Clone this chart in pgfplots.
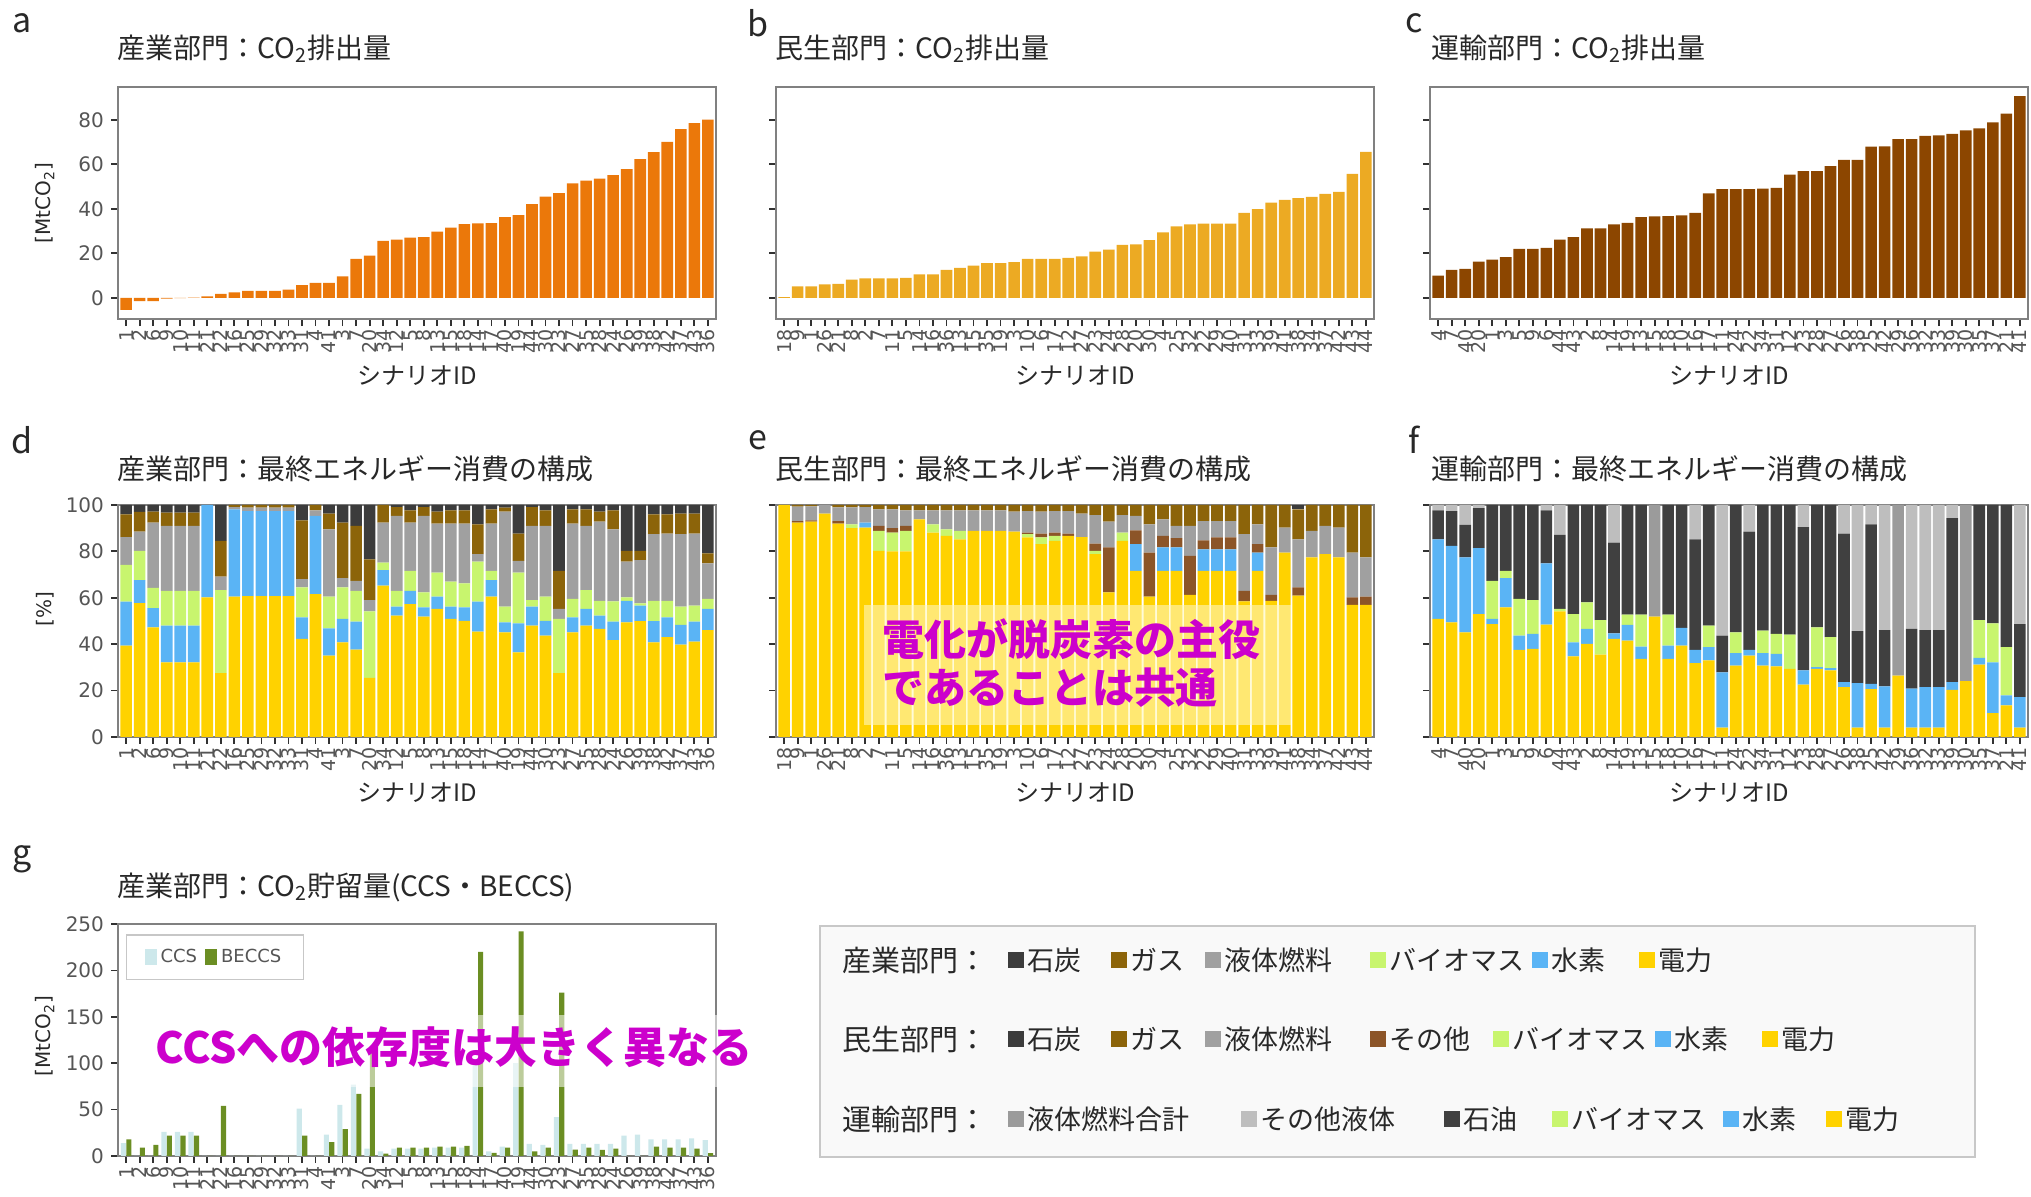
\documentclass[border=0pt]{standalone}
\usepackage{fontspec}
\setmainfont{Noto Sans CJK JP}
\newfontfamily\numfont{DejaVu Sans}
\usepackage{pgfplots}
\usepackage{pgfplotstable}
\pgfplotsset{compat=1.18}

% sector colours
\definecolor{cInd}{RGB}{235,120,10}
\definecolor{cRes}{RGB}{236,170,35}
\definecolor{cTra}{RGB}{140,70,0}
% fuel colours
\definecolor{fCoal}{RGB}{60,60,60}
\definecolor{fGas}{RGB}{140,100,10}
\definecolor{fLiq}{RGB}{160,160,160}
\definecolor{fBio}{RGB}{200,245,110}
\definecolor{fH2}{RGB}{90,180,245}
\definecolor{fEl}{RGB}{255,210,0}
\definecolor{fOth}{RGB}{140,85,40}
\definecolor{fOil}{RGB}{64,64,64}
\definecolor{fOLiq}{RGB}{190,190,190}
\definecolor{fLTot}{RGB}{155,155,155}
\definecolor{cCCS}{RGB}{205,232,235}
\definecolor{cBECCS}{RGB}{107,142,35}
% frame and text colours
\definecolor{axisgray}{RGB}{128,128,128}
\definecolor{tickdark}{RGB}{50,50,50}
\definecolor{labgray}{RGB}{85,85,85}
\definecolor{txt}{RGB}{40,40,40}
\definecolor{magen}{RGB}{204,0,204}

% scenario order of each sector (sorted by CO2 emissions)
\def\ordInd{1,2,6,9,10,11,21,22,16,25,29,32,33,31,4,41,3,7,20,34,12,5,8,13,15,18,14,17,40,19,44,30,23,27,35,28,24,26,39,38,42,37,43,36}
\def\ordRes{18,9,1,26,21,8,2,7,11,5,14,16,36,13,15,35,19,3,10,6,17,12,27,23,24,28,20,30,4,25,32,22,29,40,31,33,39,41,38,34,37,42,43,44}
\def\ordTra{4,7,40,20,1,3,5,9,6,44,43,2,8,14,19,13,15,18,10,16,17,11,24,22,34,31,12,23,28,27,26,38,25,42,29,36,32,33,39,30,35,37,21,41}

\pgfplotstableread{
i v
0 -5.4
1 -1.5
2 -1.5
3 -0.4
4 -0.1
5 0.1
6 0.7
7 1.8
8 2.5
9 3.1
10 3.1
11 3.1
12 3.7
13 5.7
14 6.7
15 6.7
16 9.6
17 17.5
18 19.0
19 25.6
20 26.2
21 27.1
22 27.3
23 29.7
24 31.5
25 33.1
26 33.4
27 33.6
28 36.3
29 37.2
30 42.1
31 45.5
32 47.0
33 51.4
34 52.6
35 53.6
36 55.1
37 57.8
38 62.3
39 65.5
40 70.0
41 75.8
42 78.5
43 80.0
}\tabA

\pgfplotstableread{
i v
0 0.3
1 5.1
2 5.2
3 6.0
4 6.3
5 8.2
6 8.7
7 8.7
8 8.7
9 9.0
10 10.5
11 10.5
12 12.6
13 13.5
14 14.5
15 15.6
16 15.6
17 16.0
18 17.5
19 17.5
20 17.5
21 18.0
22 18.6
23 20.8
24 21.7
25 23.8
26 24.0
27 25.9
28 29.4
29 32.1
30 33.0
31 33.3
32 33.3
33 33.3
34 38.2
35 39.9
36 42.8
37 44.0
38 44.8
39 45.4
40 46.7
41 47.6
42 55.7
43 65.6
}\tabB

\pgfplotstableread{
i v
0 10.0
1 12.6
2 13.0
3 16.3
4 17.2
5 18.3
6 22.0
7 22.0
8 22.5
9 26.1
10 27.3
11 31.2
12 31.2
13 33.0
14 33.7
15 36.3
16 36.6
17 36.7
18 37.0
19 38.2
20 46.9
21 48.8
22 48.8
23 48.8
24 49.0
25 49.4
26 55.3
27 56.9
28 56.9
29 59.2
30 62.0
31 62.0
32 67.9
33 68.0
34 71.3
35 71.3
36 72.8
37 73.0
38 73.7
39 75.2
40 76.1
41 78.8
42 82.7
43 90.6
}\tabC

% industry final energy shares [%]
\pgfplotstableread{
i el h2 bio liq gas coal
0 39.4 18.9 15.9 12.0 9.8 4.0
1 57.7 9.9 12.6 8.3 8.5 3.0
2 47.3 8.3 8.7 28.1 4.7 2.9
3 32.2 15.8 15.0 28.0 5.7 3.3
4 32.2 15.8 15.0 28.0 5.7 3.3
5 32.2 15.8 15.0 28.0 5.7 3.3
6 60.2 39.8 0 0 0 0
7 27.5 0 35.8 5.8 15.4 15.5
8 60.5 37.6 0 1.0 0.9 0
9 60.7 36.7 0 1.5 1.1 0
10 60.7 36.7 0 1.5 1.1 0
11 60.7 36.7 0 1.5 1.1 0
12 60.7 36.7 0 1.5 1.1 0
13 42.3 9.3 12.9 3.6 25.3 6.6
14 61.6 33.7 0 2.4 2.3 0
15 35.1 11.7 13.7 29.0 6.8 3.7
16 40.8 10.1 13.6 4.0 23.9 7.6
17 37.7 12.0 13.3 4.3 23.7 9.0
18 25.5 0 28.7 4.8 17.6 23.4
19 65.2 6.7 3.3 17.2 7.6 0
20 52.3 3.9 6.8 32.3 3.8 0.9
21 57.3 5.7 8.6 20.8 5.3 2.3
22 51.9 4.0 6.4 33.0 3.8 0.9
23 55.2 5.3 10.4 21.1 5.1 2.9
24 50.9 5.3 10.8 25.0 5.7 2.3
25 50.1 5.8 10.3 25.8 5.7 2.3
26 45.4 12.9 17.3 3.2 12.9 8.3
27 60.5 7.1 4.0 20.4 6.1 1.9
28 45.1 4.3 6.8 40.9 1.8 1.1
29 36.5 12.5 21.9 5.0 11.8 12.3
30 48.0 8.2 2.8 32.0 8.1 0.9
31 43.7 6.4 10.4 30.5 6.7 2.3
32 27.5 0 23.4 4.3 16.4 28.4
33 45.1 6.5 7.9 32.5 6.1 1.9
34 48.0 7.2 8.1 27.7 7.1 1.9
35 46.6 5.7 6.4 34.1 4.3 2.9
36 41.8 7.9 8.8 31.0 8.2 2.3
37 49.4 9.3 1.5 15.4 4.6 19.8
38 49.9 6.7 1.0 18.6 4.0 19.8
39 40.8 9.1 8.8 28.7 8.6 4.0
40 43.0 8.6 7.1 29.0 8.3 4.0
41 39.8 8.5 7.9 31.2 8.9 3.7
42 41.1 8.6 6.9 31.1 8.6 3.7
43 46.1 9.1 4.3 15.3 4.3 20.9
}\tabD

% residential/commercial final energy shares [%]
\pgfplotstableread{
i el h2 bio oth liq gas coal
0 100 0 0 0 0 0 0
1 92.4 0 0 0.7 6.2 0.7 0
2 92.8 0 0 0.6 6.0 0.6 0
3 96.3 0 0 0 3.7 0 0
4 92.0 0 0 1.0 6.0 1.0 0
5 90.0 0 1.7 0 7.3 1.0 0
6 90.3 2.1 0 0 6.7 0.9 0
7 80.2 0 8.6 2.2 7.1 1.9 0
8 80.0 0 8.1 1.9 8.1 1.9 0
9 80.0 0 8.8 2.2 6.7 2.3 0
10 93.8 0 0 0 3.9 2.3 0
11 88.1 0 3.6 0 6.0 2.3 0
12 86.7 0 2.8 0 8.2 2.3 0
13 85.2 0 3.6 0 8.9 2.3 0
14 88.8 0 0 0 8.9 2.3 0
15 88.8 0 0 0 8.9 2.3 0
16 88.8 0 0 0 8.9 2.3 0
17 88.5 0 0 0 8.6 2.9 0
18 86.0 0 1.4 0.7 9.3 2.6 0
19 83.1 0 2.9 1.7 9.4 2.9 0
20 84.5 0 2.2 1.4 9.3 2.6 0
21 86.7 0 0 1.0 9.7 2.6 0
22 86.2 0 0 0 10.1 3.7 0
23 78.8 0 1.4 3.2 12.2 4.4 0
24 62.3 0 0 19.4 11.1 7.2 0
25 84.5 0 3.6 0 7.5 4.4 0
26 71.6 11.5 0 6.0 6.2 4.7 0
27 60.5 0 0 19.0 12.2 8.3 0
28 71.6 10.1 0 5.0 7.1 6.2 0
29 71.6 10.1 0 4.0 5.3 9.0 0
30 61.3 0 0 16.8 12.9 9.0 0
31 71.6 9.3 0 3.9 8.3 6.9 0
32 71.6 9.3 0 5.1 7.1 6.9 0
33 71.6 9.3 0 5.1 7.1 6.9 0
34 58.5 0 0 4.5 24.4 12.6 0
35 71.6 7.9 0 3.6 8.6 8.3 0
36 58.7 0 0 2.6 20.4 18.3 0
37 79.5 0 0 0 10.8 9.7 0
38 60.9 0 0 3.6 20.7 12.9 1.9
39 77.4 0 0 0 11.4 11.2 0
40 78.8 0 0 0 12.2 9.0 0
41 77.4 0 0 0 12.9 9.7 0
42 57.0 0 0 3.2 19.3 20.5 0
43 57.0 0 0 3.5 16.9 22.6 0
}\tabE

% transport final energy shares [%]
\pgfplotstableread{
i el h2 bio oil oliq ltot
0 50.9 34.3 0 12.5 2.3 0
1 49.4 33.0 0 15.0 2.6 0
2 45.1 32.3 0 14.0 8.6 0
3 53.0 28.4 0 17.2 1.4 0
4 48.7 2.2 16.4 32.7 0 0
5 55.9 12.6 3.1 28.4 0 0
6 37.5 6.2 15.8 40.5 0 0
7 38.0 6.4 14.6 41.0 0 0
8 48.4 26.4 0 22.9 2.3 0
9 54.2 0 1.0 31.9 12.9 0
10 34.7 6.1 12.2 47.0 0 0
11 40.1 6.5 11.4 42.0 0 0
12 35.5 0 14.9 49.6 0 0
13 42.3 2.4 0 39.1 16.2 0
14 41.5 6.8 4.4 47.3 0 0
15 33.7 5.3 13.7 47.3 0 0
16 51.9 0 0 0 0 48.1
17 33.7 5.7 13.3 47.3 0 0
18 39.4 7.6 0 53.0 0 0
19 31.8 5.7 0 47.7 14.8 0
20 33.0 5.7 9.3 52.0 0 0
21 4.0 23.9 0 15.8 56.3 0
22 30.8 5.3 9.0 54.9 0 0
23 35.1 2.4 0 51.0 11.5 0
24 30.8 5.3 9.7 54.2 0 0
25 30.4 5.4 8.6 55.6 0 0
26 29.4 0 14.7 55.9 0 0
27 22.6 6.1 0 61.8 9.5 0
28 29.4 0.7 17.2 52.7 0 0
29 28.7 1.0 13.3 57.0 0 0
30 21.5 2.1 0 64.1 12.3 0
31 4.0 19.2 0 22.4 54.4 0
32 20.6 2.3 0 68.8 8.3 0
33 4.0 17.8 0 24.3 53.9 0
34 26.5 0 0 0 0 73.5
35 4.0 16.8 0 25.8 53.4 0
36 4.0 17.5 0 24.6 53.9 0
37 4.0 17.5 0 24.6 53.9 0
38 20.3 3.3 0 70.7 5.7 0
39 24.1 0 0 0 0 75.9
40 31.2 2.9 16.3 49.6 0 0
41 10.3 21.9 16.8 51.0 0 0
42 13.6 4.3 20.8 61.3 0 0
43 4.0 13.2 0 31.5 51.3 0
}\tabF

% industry CO2 storage [MtCO2]
\pgfplotstableread{
i ccs beccs
0 14 18
1 0 9
2 0 12
3 26 22
4 26 22
5 26 22
6 0 0
7 0 54
8 0 0
9 0 0
10 0 0
11 0 0
12 0 0
13 51 22
14 0 0
15 23 15
16 55 29
17 77 67
18 8 111
19 5 2.5
20 8 9
21 8 9
22 8 9
23 9 10
24 9 10
25 9 11
26 100 220
27 5 3.5
28 10 9
29 100 242
30 13 5
31 12 9
32 42 176
33 13 7
34 13 9
35 13 6.5
36 13 8
37 22 0
38 23 0
39 18 10
40 18 9
41 18 9
42 19 8
43 17 3
}\tabG

\pgfplotsset{
  panel/.style={
    scale only axis, width=299pt, height=116pt,
    anchor=north west,
    xmin=-0.6, xmax=43.6,
    axis line style={draw=axisgray, line width=0.8pt},
    tick pos=left, tick align=outside,
    major tick length=3.5pt,
    tick style={draw=tickdark, line width=0.9pt},
    xtick={0,...,43},
    x tick label style={rotate=90, anchor=east, inner sep=1.5pt,
      font=\numfont\fontsize{9.5}{9.5}\selectfont, text=labgray},
    y tick label style={font=\numfont\fontsize{10}{10}\selectfont, text=labgray},
    /pgf/number format/assume math mode=true,
  },
  co2/.style={panel, ybar, bar width=0.86, ymin=-9.5, ymax=94.7, ytick={0,20,40,60,80}},
  mix/.style={panel, ybar stacked, bar width=0.86, ymin=0, ymax=100, ytick={0,20,...,100}},
}

\newcommand{\ttl}[3]{\node[anchor=west, inner sep=0pt, text=txt, font=\fontsize{14}{14}\selectfont] at (#1,#2) {#3};}
\newcommand{\lett}[3]{\node[inner sep=0pt, text=txt, font=\fontsize{17}{17}\selectfont] at (#1,#2) {#3};}
\newcommand{\xlab}[2]{\node[inner sep=0pt, text=txt, font=\fontsize{12}{12}\selectfont] at (#1,#2) {シナリオID};}
\newcommand{\legitem}[4]{\fill[#3] (#1,#2-4pt) rectangle (#1+8pt,#2+4pt);
  \node[anchor=west, inner sep=0pt, text=txt, font=\fontsize{13.5}{13.5}\selectfont] at (#1+9.5pt,#2) {#4};}

\begin{document}
\begin{tikzpicture}
\path[use as bounding box] (0,0) rectangle (1015.5pt,598pt);

% ---------- a: industry CO2 ----------
\begin{axis}[co2, at={(59pt,554.5pt)}, xticklabels/.expanded=\ordInd]
\addplot[fill=cInd, draw=none] table[x=i,y=v]{\tabA};
\end{axis}
% ---------- b: residential CO2 ----------
\begin{axis}[co2, at={(388pt,554.5pt)}, yticklabels={}, xticklabels/.expanded=\ordRes]
\addplot[fill=cRes, draw=none] table[x=i,y=v]{\tabB};
\end{axis}
% ---------- c: transport CO2 ----------
\begin{axis}[co2, at={(715pt,554.5pt)}, yticklabels={}, xticklabels/.expanded=\ordTra]
\addplot[fill=cTra, draw=none] table[x=i,y=v]{\tabC};
\end{axis}

% ---------- d: industry energy mix ----------
\begin{axis}[mix, at={(59pt,345.5pt)}, xticklabels/.expanded=\ordInd]
\addplot[fill=fEl, draw=none] table[x=i,y=el]{\tabD};
\addplot[fill=fH2, draw=none] table[x=i,y=h2]{\tabD};
\addplot[fill=fBio, draw=none] table[x=i,y=bio]{\tabD};
\addplot[fill=fLiq, draw=none] table[x=i,y=liq]{\tabD};
\addplot[fill=fGas, draw=none] table[x=i,y=gas]{\tabD};
\addplot[fill=fCoal, draw=none] table[x=i,y=coal]{\tabD};
\end{axis}
% ---------- e: residential energy mix ----------
\begin{axis}[mix, at={(388pt,345.5pt)}, yticklabels={}, xticklabels/.expanded=\ordRes]
\addplot[fill=fEl, draw=none] table[x=i,y=el]{\tabE};
\addplot[fill=fH2, draw=none] table[x=i,y=h2]{\tabE};
\addplot[fill=fBio, draw=none] table[x=i,y=bio]{\tabE};
\addplot[fill=fOth, draw=none] table[x=i,y=oth]{\tabE};
\addplot[fill=fLiq, draw=none] table[x=i,y=liq]{\tabE};
\addplot[fill=fGas, draw=none] table[x=i,y=gas]{\tabE};
\addplot[fill=fCoal, draw=none] table[x=i,y=coal]{\tabE};
\end{axis}
% ---------- f: transport energy mix ----------
\begin{axis}[mix, at={(715pt,345.5pt)}, yticklabels={}, xticklabels/.expanded=\ordTra]
\addplot[fill=fEl, draw=none] table[x=i,y=el]{\tabF};
\addplot[fill=fH2, draw=none] table[x=i,y=h2]{\tabF};
\addplot[fill=fBio, draw=none] table[x=i,y=bio]{\tabF};
\addplot[fill=fOil, draw=none] table[x=i,y=oil]{\tabF};
\addplot[fill=fOLiq, draw=none] table[x=i,y=oliq]{\tabF};
\addplot[fill=fLTot, draw=none] table[x=i,y=ltot]{\tabF};
\end{axis}

% ---------- g: industry CO2 storage ----------
\begin{axis}[panel, at={(59pt,136pt)}, ybar, ymin=0, ymax=250, ytick={0,50,...,250},
  xticklabels/.expanded=\ordInd,
  legend image code/.code={\fill[#1] (0pt,-4pt) rectangle (6pt,4pt);},
  legend style={at={(rel axis cs:0.013,0.955)}, anchor=north west, legend columns=2,
    draw=black!22, line width=0.8pt, fill=white, inner xsep=9pt, inner ysep=5pt,
    font=\numfont\fontsize{9}{9}\selectfont, text=labgray,
    /tikz/every even column/.append style={column sep=2pt}}]
\addplot[fill=cCCS, draw=none, bar width=0.38, bar shift=-0.2] table[x=i,y=ccs]{\tabG};
\addplot[fill=cBECCS, draw=none, bar width=0.38, bar shift=0.2] table[x=i,y=beccs]{\tabG};
\legend{CCS, BECCS}
\end{axis}

% ---------- titles, panel letters, axis labels ----------
\lett{11pt}{586.5pt}{a}
\lett{379pt}{586.5pt}{b}
\lett{707pt}{586.5pt}{c}
\lett{11pt}{378pt}{d}
\lett{379pt}{378pt}{e}
\lett{707pt}{378pt}{f}
\lett{11pt}{168.5pt}{g}

\ttl{58.5pt}{573.5pt}{産業部門：CO\textsubscript{2}排出量}
\ttl{387.5pt}{573.5pt}{民生部門：CO\textsubscript{2}排出量}
\ttl{715.5pt}{573.5pt}{運輸部門：CO\textsubscript{2}排出量}
\ttl{58.5pt}{363.5pt}{産業部門：最終エネルギー消費の構成}
\ttl{387.5pt}{363.5pt}{民生部門：最終エネルギー消費の構成}
\ttl{715.5pt}{363.5pt}{運輸部門：最終エネルギー消費の構成}
\ttl{58.5pt}{154.5pt}{産業部門：CO\textsubscript{2}貯留量(CCS・BECCS)}

\xlab{208.5pt}{410pt}
\xlab{537.5pt}{410pt}
\xlab{864.5pt}{410pt}
\xlab{208.5pt}{201.5pt}
\xlab{537.5pt}{201.5pt}
\xlab{864.5pt}{201.5pt}

\node[rotate=90, inner sep=0pt, text=txt, font=\numfont\fontsize{10}{10}\selectfont] at (22.5pt,496.5pt) {[MtCO\textsubscript{2}]};
\node[rotate=90, inner sep=0pt, text=txt, font=\numfont\fontsize{10}{10}\selectfont] at (22.5pt,293.5pt) {[\%]};
\node[rotate=90, inner sep=0pt, text=txt, font=\numfont\fontsize{10}{10}\selectfont] at (22.5pt,80pt) {[MtCO\textsubscript{2}]};

% ---------- callouts ----------
\fill[fill={rgb,255:red,255;green,248;blue,190}, fill opacity=0.6] (432pt,235.5pt) rectangle (645.5pt,295.5pt);
\node[anchor=west, inner sep=0pt, text=magen, font=\bfseries\fontsize{21}{21}\selectfont] at (441pt,278.5pt) {電化が脱炭素の主役};
\node[anchor=west, inner sep=0pt, text=magen, font=\bfseries\fontsize{21}{21}\selectfont] at (441pt,254pt) {であることは共通};

\fill[white, fill opacity=0.55] (75pt,54.5pt) rectangle (376pt,90.5pt);
\node[anchor=west, inner sep=0pt, text=magen, font=\bfseries\fontsize{21.5}{21.5}\selectfont] at (77.5pt,74.5pt) {CCSへの依存度は大きく異なる};

% ---------- fuel legend ----------
\draw[draw={rgb,255:red,200;green,200;blue,200}, fill={rgb,255:red,249;green,249;blue,249}, line width=0.8pt] (410pt,19.5pt) rectangle (987.5pt,135pt);
\node[anchor=west, inner sep=0pt, text=txt, font=\fontsize{14.5}{14.5}\selectfont] at (421pt,118pt) {産業部門：};
\node[anchor=west, inner sep=0pt, text=txt, font=\fontsize{14.5}{14.5}\selectfont] at (421pt,78.5pt) {民生部門：};
\node[anchor=west, inner sep=0pt, text=txt, font=\fontsize{14.5}{14.5}\selectfont] at (421pt,38.5pt) {運輸部門：};

\legitem{503.9pt}{118pt}{fCoal}{石炭}
\legitem{555.7pt}{118pt}{fGas}{ガス}
\legitem{602.3pt}{118pt}{fLiq}{液体燃料}
\legitem{685.2pt}{118pt}{fBio}{バイオマス}
\legitem{766.2pt}{118pt}{fH2}{水素}
\legitem{819.3pt}{118pt}{fEl}{電力}

\legitem{503.9pt}{78.5pt}{fCoal}{石炭}
\legitem{555.7pt}{78.5pt}{fGas}{ガス}
\legitem{602.3pt}{78.5pt}{fLiq}{液体燃料}
\legitem{685.2pt}{78.5pt}{fOth}{その他}
\legitem{746.7pt}{78.5pt}{fBio}{バイオマス}
\legitem{827.7pt}{78.5pt}{fH2}{水素}
\legitem{880.8pt}{78.5pt}{fEl}{電力}

\legitem{503.9pt}{38.5pt}{fLTot}{液体燃料合計}
\legitem{620.5pt}{38.5pt}{fOLiq}{その他液体}
\legitem{722.1pt}{38.5pt}{fOil}{石油}
\legitem{775.9pt}{38.5pt}{fBio}{バイオマス}
\legitem{861.4pt}{38.5pt}{fH2}{水素}
\legitem{913.2pt}{38.5pt}{fEl}{電力}
\end{tikzpicture}
\end{document}
